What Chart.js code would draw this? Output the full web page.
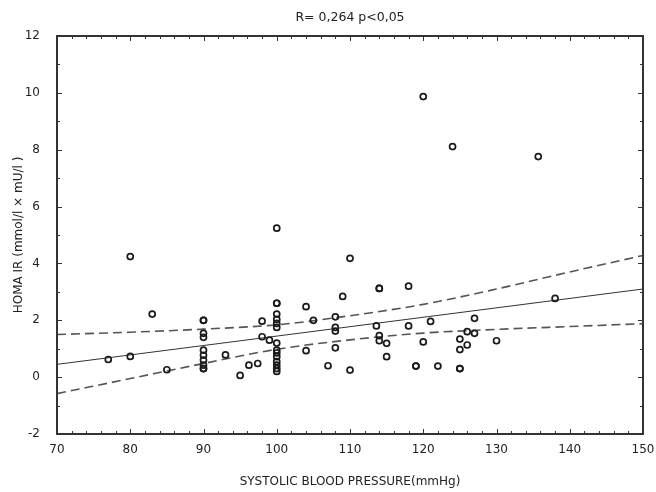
<!DOCTYPE html>
<html>
<head>
<meta charset="utf-8">
<script src="https://cdn.jsdelivr.net/npm/chart.js@4"></script>
<style>
  body { margin: 0; background: #fff; }
  canvas { display: block; }
</style>
</head>
<body>
<canvas id="chart" width="656" height="492"></canvas>
<script>
// systolic blood pressure (mmHg) vs HOMA IR
const bpValues = [
  77, 80, 80, 83, 85,
  90, 90, 90, 90, 90, 90, 90, 90, 90, 90,
  93, 95, 96.2, 97.4, 98, 98, 99,
  100, 100, 100, 100, 100, 100, 100, 100, 100, 100, 100, 100, 100, 100, 100,
  104, 104, 105, 107, 108, 108, 108, 108, 109, 110, 110,
  113.6, 114, 114, 114, 114, 115, 115,
  118, 118, 119, 119, 120, 120, 121, 122, 124,
  125, 125, 125, 125, 126, 126, 127, 127, 130, 135.7, 138
];
const homaValues = [
  0.62, 0.73, 4.24, 2.22, 0.26,
  2.0, 2.0, 1.54, 1.4, 0.95, 0.77, 0.6, 0.42, 0.3, 0.3,
  0.78, 0.06, 0.42, 0.48, 1.97, 1.42, 1.3,
  5.24, 2.6, 2.6, 2.22, 2.03, 1.89, 1.75, 1.2, 0.95, 0.85, 0.72, 0.55, 0.42, 0.3, 0.2,
  2.48, 0.93, 2.0, 0.4, 2.12, 1.75, 1.62, 1.03, 2.84, 4.18, 0.25,
  1.8, 3.12, 3.12, 1.46, 1.28, 1.19, 0.72,
  3.2, 1.8, 0.39, 0.39, 9.87, 1.24, 1.96, 0.39, 8.11,
  1.34, 0.97, 0.3, 0.3, 1.6, 1.13, 2.07, 1.54, 1.28, 7.76, 2.77
];

// regression line and 95% confidence band
const fitX = [70, 150];
const fitY = [0.45, 3.1];
const bandX = [70, 80, 90, 100, 110, 120, 130, 140, 150];
const upperBand = [1.5, 1.58, 1.69, 1.84, 2.16, 2.56, 3.1, 3.7, 4.28];
const lowerBand = [-0.58, -0.05, 0.48, 0.98, 1.31, 1.55, 1.68, 1.78, 1.88];

const xMin = 70, xMax = 150, xStep = 10, xMinorStep = 2;
const yMin = -2, yMax = 12, yStep = 2, yMinorStep = 1;

const textColor = '#222';
const fontFamily = '"DejaVu Sans", Verdana, sans-serif';

const toPoints = (xs, ys) => xs.map((x, i) => ({ x, y: ys[i] }));

// frame with inward ticks on all four sides, like the original plot
const framePlugin = {
  id: 'frame',
  afterDraw(chart) {
    const { ctx, chartArea: a, scales } = chart;
    ctx.save();
    ctx.strokeStyle = '#333';
    ctx.lineWidth = 1;
    ctx.beginPath();
    for (let v = xMin; v <= xMax; v += xMinorStep) {
      const px = Math.round(scales.x.getPixelForValue(v)) + 0.5;
      const len = v % xStep === 0 ? 5 : 3;
      ctx.moveTo(px, a.bottom); ctx.lineTo(px, a.bottom - len);
      ctx.moveTo(px, a.top); ctx.lineTo(px, a.top + len);
    }
    for (let v = yMin; v <= yMax; v += yMinorStep) {
      const py = Math.round(scales.y.getPixelForValue(v)) + 0.5;
      const len = v % yStep === 0 ? 5 : 3;
      ctx.moveTo(a.left, py); ctx.lineTo(a.left + len, py);
      ctx.moveTo(a.right, py); ctx.lineTo(a.right - len, py);
    }
    ctx.stroke();
    ctx.lineWidth = 2;
    ctx.strokeRect(a.left, a.top, a.right - a.left, a.bottom - a.top);
    ctx.restore();
  }
};

new Chart(document.getElementById('chart').getContext('2d'), {
  type: 'scatter',
  data: {
    datasets: [
      {
        label: 'HOMA IR',
        data: toPoints(bpValues, homaValues),
        pointStyle: 'circle',
        pointRadius: 3,
        pointBorderWidth: 1.7,
        pointBorderColor: '#1a1a1a',
        pointBackgroundColor: 'rgba(255,255,255,0)',
        order: 0
      },
      {
        label: 'fit',
        type: 'line',
        data: toPoints(fitX, fitY),
        borderColor: '#333',
        borderWidth: 1,
        pointRadius: 0,
        order: 1
      },
      {
        label: 'upper 95%',
        type: 'line',
        data: toPoints(bandX, upperBand),
        borderColor: '#555',
        borderWidth: 1.6,
        borderDash: [9, 5],
        cubicInterpolationMode: 'monotone',
        pointRadius: 0,
        order: 2
      },
      {
        label: 'lower 95%',
        type: 'line',
        data: toPoints(bandX, lowerBand),
        borderColor: '#555',
        borderWidth: 1.6,
        borderDash: [9, 5],
        cubicInterpolationMode: 'monotone',
        pointRadius: 0,
        order: 2
      }
    ]
  },
  options: {
    responsive: false,
    animation: false,
    layout: { padding: { right: 13 } },
    plugins: {
      legend: { display: false },
      tooltip: { enabled: false },
      title: {
        display: true,
        fullSize: false,
        text: 'R= 0,264 p<0,05',
        color: textColor,
        font: { family: fontFamily, size: 12.5, weight: 'normal' },
        padding: { top: 10, bottom: 11 }
      }
    },
    scales: {
      x: {
        type: 'linear',
        min: xMin,
        max: xMax,
        grid: { display: false },
        border: { display: false },
        ticks: {
          stepSize: xStep,
          color: textColor,
          padding: 1,
          font: { family: fontFamily, size: 12 }
        },
        title: {
          display: true,
          text: 'SYSTOLIC BLOOD PRESSURE(mmHg)',
          color: textColor,
          font: { family: fontFamily, size: 12 },
          padding: { top: 4, bottom: 3 }
        },
        afterFit(scale) {
          scale.height = 58;
          scale.paddingRight = 0;
          scale.paddingLeft = 0;
        }
      },
      y: {
        type: 'linear',
        min: yMin,
        max: yMax,
        grid: { display: false },
        border: { display: false },
        ticks: {
          stepSize: yStep,
          color: textColor,
          padding: 9,
          font: { family: fontFamily, size: 12 }
        },
        title: {
          display: true,
          text: 'HOMA IR (mmol/l × mU/l )',
          color: textColor,
          font: { family: fontFamily, size: 12 },
          padding: { top: 12, bottom: 0 }
        },
        afterFit(scale) { scale.width = 57; }
      }
    }
  },
  plugins: [framePlugin]
});
</script>
</body>
</html>
